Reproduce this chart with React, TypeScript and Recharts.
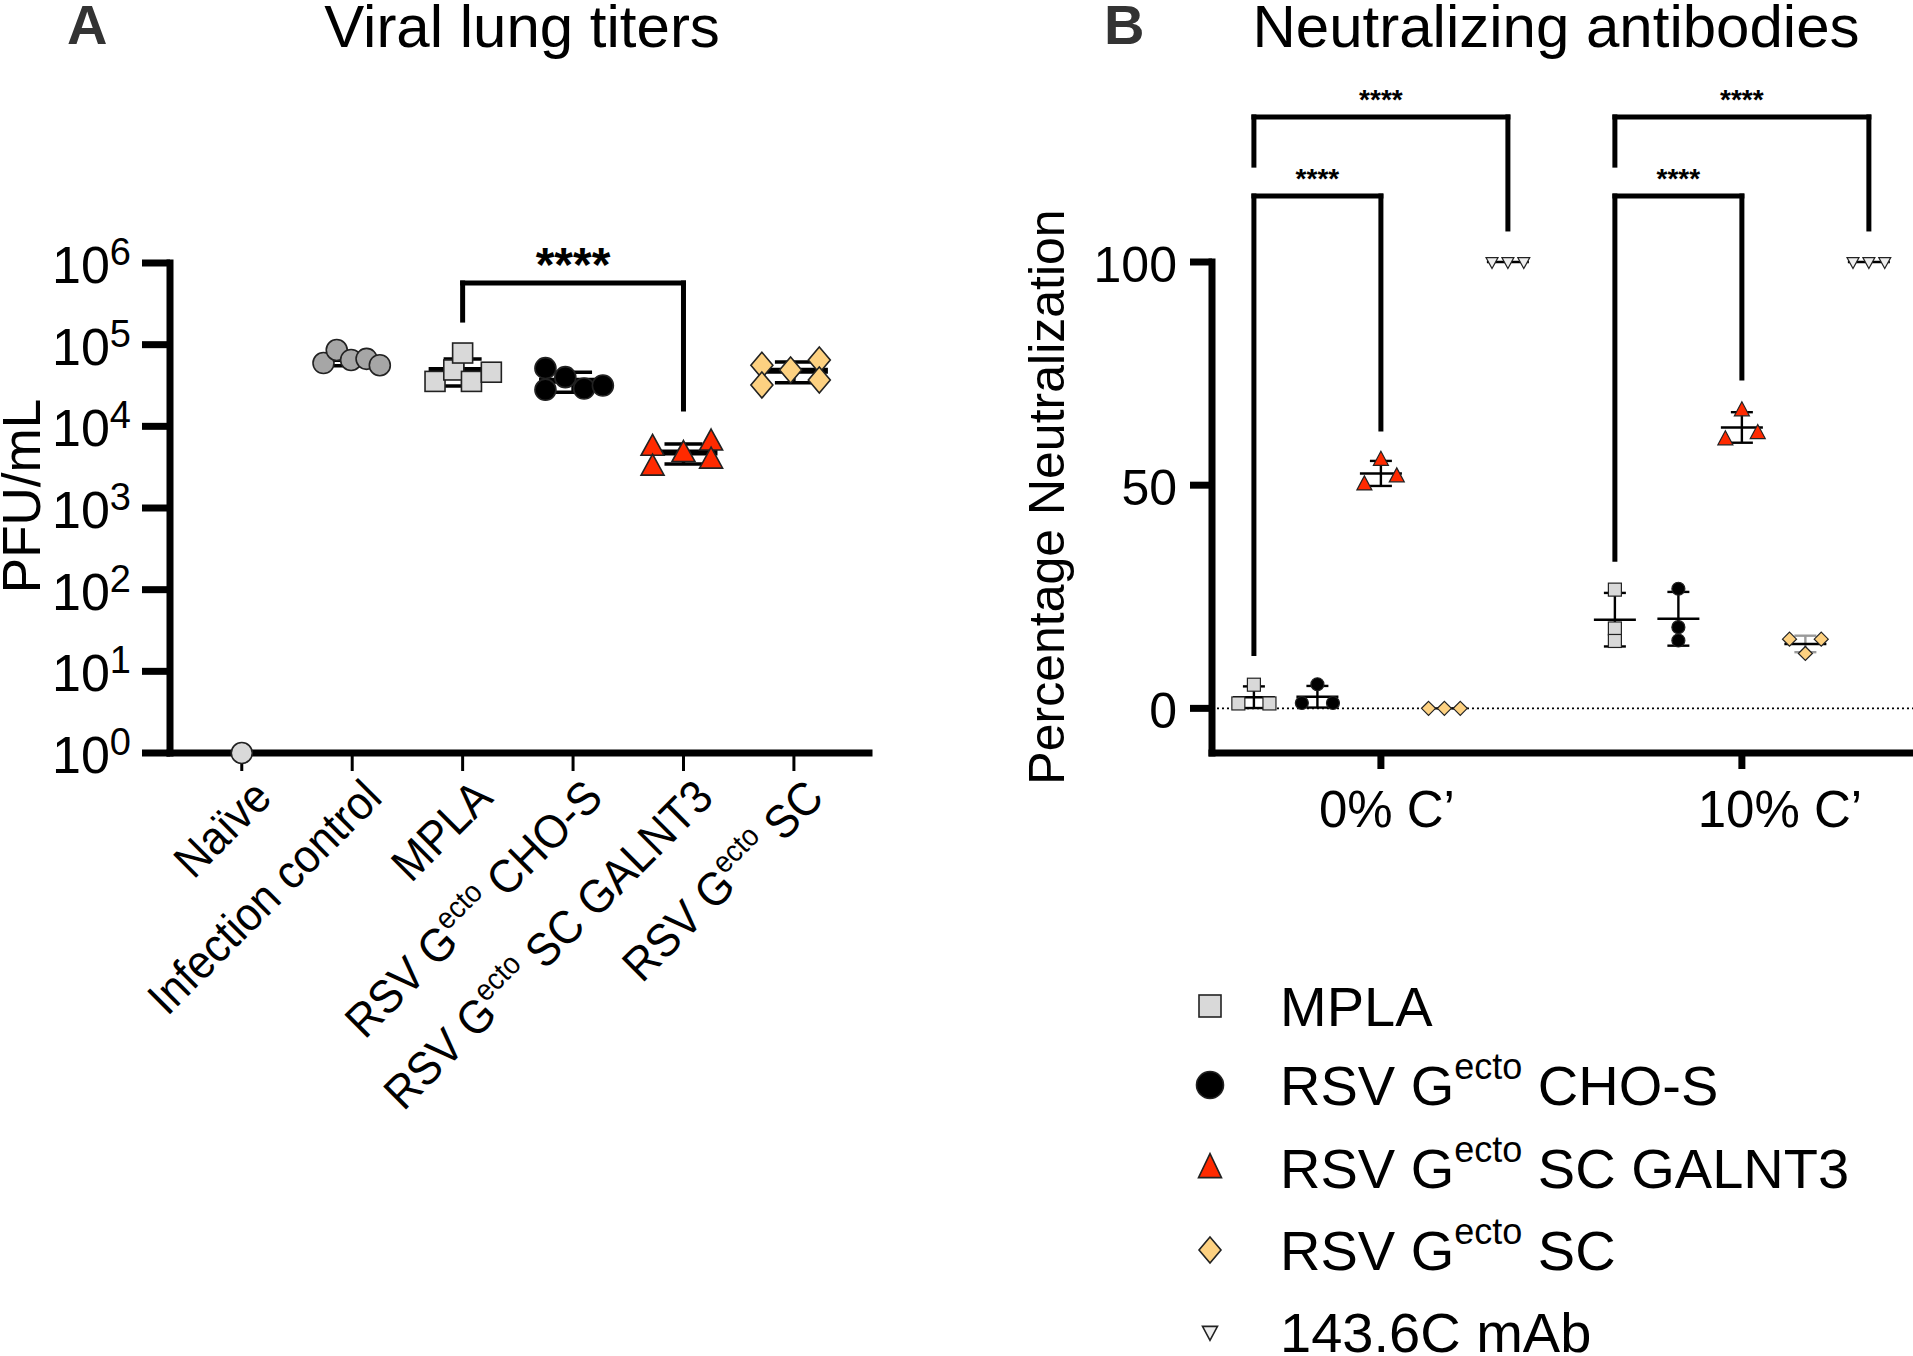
import React from 'react'
import { ScatterChart, Scatter, XAxis, YAxis, ErrorBar, ReferenceLine, ReferenceDot } from 'recharts'

const FONT = "'Liberation Sans', Arial, Helvetica, sans-serif"

// ---------- Panel A: viral lung titers (PFU/mL, log axis) ----------
const categoriesA = ['Naïve', 'Infection control', 'MPLA', 'RSV G^ecto^ CHO-S', 'RSV G^ecto^ SC GALNT3', 'RSV G^ecto^ SC']
const naiveA = [1]
const infectionControlA = [59600, 86000, 65000, 67000, 56000]
const mplaA = [35500, 49000, 79000, 35500, 46000]
const choA = [51600, 28000, 40000, 29000, 31600]
const galnt3A = [5600, 3200, 4700, 6500, 3900]
const scA = [56000, 32000, 49000, 65000, 37000]
// horizontal scatter of the dots inside each column (in column units)
const spreadNaive = [0]
const spreadIC = [-0.26, -0.14, -0.01, 0.13, 0.25]
const spreadMPLA = [-0.25, -0.08, 0, 0.08, 0.26]
const spreadCHO = [-0.25, -0.25, -0.07, 0.1, 0.27]
const spreadGAL = [-0.28, -0.28, 0, 0.25, 0.25]
const spreadSC = [-0.29, -0.29, -0.03, 0.23, 0.23]
const logTicksA = [1, 10, 100, 1000, 10000, 100000, 1000000]
// significance bracket MPLA vs GALNT3
const bracketA = { from: 2, to: 4, top: 569000, leftEnd: 200000, rightEnd: 16300, label: '****' }

// ---------- Panel B: neutralizing antibodies (% neutralization) ----------
const groupsB = ['0% C’', '10% C’']
const seriesB = ['MPLA', 'RSV G^ecto^ CHO-S', 'RSV G^ecto^ SC GALNT3', 'RSV G^ecto^ SC', '143.6C mAb']
const mplaB = [[1.1, 5.3, 1.1], [26.6, 17.9, 15.1]]
const choB = [[1.2, 5.4, 1.2], [26.8, 18.2, 15.2]]
const galnt3B = [[50.2, 55.7, 52.0], [60.3, 66.8, 61.7]]
const scB = [[0, 0, 0], [15.5, 12.3, 15.5]]
const mabB = [[100, 100, 100], [100, 100, 100]]
const spreadB = [
  [[-0.245, 0, 0.245], [0, 0, 0]],
  [[-0.245, 0, 0.245], [0, 0, 0]],
  [[-0.26, 0, 0.25], [-0.26, 0, 0.25]],
  [[-0.25, 0, 0.25], [-0.25, 0, 0.25]],
  [[-0.25, 0, 0.25], [-0.25, 0, 0.25]],
]
const yTicksB = [0, 50, 100]
// brackets: MPLA vs mAb (outer) and MPLA vs GALNT3 (inner), per group
const outerBracketB = { top: 132.5, leftEnd: 121.7, rightEnd: [107.4, 107.4], label: '****' }
const innerBracketB = { top: 114.8, leftEnd: [12.3, 33.4], rightEnd: [62.6, 74.0], label: '****' }

const GROUP_STEP_B = 5.685
const SERIES_OFFSET_B = [-2, -1, 0, 1, 2]

type Kind = 'circle' | 'square' | 'triangle' | 'diamond' | 'triangleDown'

const mean = (v: number[]) => v.reduce((a, b) => a + b, 0) / v.length
const sdev = (v: number[]) => {
  if (v.length < 2) return 0
  const m = mean(v)
  return Math.sqrt(v.reduce((a, b) => a + (b - m) * (b - m), 0) / (v.length - 1))
}

function Marker({ kind, cx, cy, w, h, fill, stroke = '#111', sw = 1.5 }: any) {
  if (cx == null || cy == null) return null
  switch (kind as Kind) {
    case 'circle':
      return <circle cx={cx} cy={cy} r={w / 2} fill={fill} stroke={stroke} strokeWidth={sw} />
    case 'square':
      return <rect x={cx - w / 2} y={cy - h / 2} width={w} height={h} fill={fill} stroke={stroke} strokeWidth={sw} />
    case 'triangle':
      return (
        <polygon
          points={`${cx},${cy - h * 0.6} ${cx + w / 2},${cy + h * 0.4} ${cx - w / 2},${cy + h * 0.4}`}
          fill={fill}
          stroke={stroke}
          strokeWidth={sw}
        />
      )
    case 'triangleDown':
      return (
        <polygon
          points={`${cx - w / 2},${cy - h * 0.4} ${cx + w / 2},${cy - h * 0.4} ${cx},${cy + h * 0.6}`}
          fill={fill}
          stroke={stroke}
          strokeWidth={sw}
        />
      )
    case 'diamond':
      return (
        <polygon
          points={`${cx},${cy - h / 2} ${cx + w / 2},${cy} ${cx},${cy + h / 2} ${cx - w / 2},${cy}`}
          fill={fill}
          stroke={stroke}
          strokeWidth={sw}
        />
      )
  }
  return null
}

// label text with a "^sup^" part rendered as superscript
const withSup = (label: string, size: number, supSize: number, raise: number) =>
  label.split('^').map((p, i) =>
    i % 2 === 1 ? (
      <tspan key={i} fontSize={supSize} dy={-raise}>{p}</tspan>
    ) : (
      <tspan key={i} fontSize={size} dy={i > 0 ? raise : 0}>{p}</tspan>
    )
  )

const LogTickA = (props: any) => {
  const { x, y, payload } = props
  const exp = Math.round(Math.log10(payload.value))
  return (
    <text x={x - 9} y={y} textAnchor="end" fontFamily={FONT} fill="#000">
      <tspan fontSize={52} dy={20}>10</tspan>
      <tspan fontSize={38} dy={-18}>{exp}</tspan>
    </text>
  )
}

const CatTickA = (props: any) => {
  const { x, y, payload } = props
  const label = categoriesA[Math.round(payload.value)] ?? ''
  return (
    <g transform={`translate(${x + 32},${y + 27}) rotate(-45) scale(0.925,1)`}>
      <text textAnchor="end" fontFamily={FONT} fontSize={47} fill="#000" style={{ whiteSpace: 'pre' }}>
        {withSup(label, 47, 30, 19)}
      </text>
    </g>
  )
}

const TickB = (props: any) => {
  const { x, y, payload } = props
  return (
    <text x={x - 11} y={y + 20} textAnchor="end" fontFamily={FONT} fontSize={50} fill="#000">
      {payload.value}
    </text>
  )
}

const labelShiftB = [6, 38]
const GroupTickB = (props: any) => {
  const { x, y, index } = props
  return (
    <text x={x + labelShiftB[index]} y={y + 56} textAnchor="middle" fontFamily={FONT} fontSize={51} fill="#000">
      {groupsB[index]}
    </text>
  )
}

const styleA: { kind: Kind; fill: string }[] = [
  { kind: 'circle', fill: '#d9d9d9' },
  { kind: 'circle', fill: '#a6a6a6' },
  { kind: 'square', fill: '#d9d9d9' },
  { kind: 'circle', fill: '#000000' },
  { kind: 'triangle', fill: '#ff2a00' },
  { kind: 'diamond', fill: '#fdd181' },
]
const sizeA: Record<Kind, [number, number]> = {
  circle: [21, 21],
  square: [20, 20],
  triangle: [23, 21],
  diamond: [22, 26],
  triangleDown: [14, 12],
}

const styleB: { kind: Kind; fill: string; err: string }[] = [
  { kind: 'square', fill: '#d9d9d9', err: '#000' },
  { kind: 'circle', fill: '#000000', err: '#000' },
  { kind: 'triangle', fill: '#ff2a00', err: '#000' },
  { kind: 'diamond', fill: '#fdd181', err: '#9a9a9a' },
  { kind: 'triangleDown', fill: '#eeeeee', err: '#000' },
]
const sizeB: Record<Kind, [number, number]> = {
  circle: [13, 13],
  square: [13, 13],
  triangle: [15, 14],
  diamond: [14, 14],
  triangleDown: [12, 11],
}

function PanelA() {
  const valuesA = [naiveA, infectionControlA, mplaA, choA, galnt3A, scA]
  const spreadsA = [spreadNaive, spreadIC, spreadMPLA, spreadCHO, spreadGAL, spreadSC]
  const axisLine = { stroke: '#000', strokeWidth: 7, strokeLinecap: 'square' as const }
  const seg = (a: [number, number], b: [number, number], k: string) => (
    <ReferenceLine
      key={k}
      segment={[{ x: a[0], y: a[1] }, { x: b[0], y: b[1] }]}
      stroke="#000"
      strokeWidth={5}
      strokeLinecap="square"
      ifOverflow="visible"
    />
  )
  return (
    <ScatterChart width={900} height={1200} margin={{ top: 263, right: 31, bottom: 0, left: 0 }}>
      <XAxis
        type="number"
        dataKey="x"
        domain={[-0.65, 5.68]}
        ticks={[0, 1, 2, 3, 4, 5]}
        interval={0}
        height={447}
        tickSize={18}
        axisLine={axisLine}
        tickLine={{ stroke: '#000', strokeWidth: 3 }}
        tick={<CatTickA />}
      />
      <YAxis
        type="number"
        dataKey="y"
        scale="log"
        domain={[1, 1000000]}
        ticks={logTicksA}
        interval={0}
        width={170}
        tickSize={28}
        axisLine={axisLine}
        tickLine={{ stroke: '#000', strokeWidth: 7 }}
        tick={<LogTickA />}
      />
      {valuesA.map((v, i) =>
        v.length > 1 ? (
          <Scatter
            key={'m' + i}
            data={[{ x: i, y: mean(v), sd: sdev(v) }]}
            isAnimationActive={false}
            shape={(p: any) => (
              <line x1={p.cx - 34} x2={p.cx + 34} y1={p.cy} y2={p.cy} stroke="#000" strokeWidth={6} />
            )}
          >
            <ErrorBar dataKey="sd" direction="y" width={19} stroke="#000" strokeWidth={3.5} isAnimationActive={false} />
          </Scatter>
        ) : null
      )}
      {valuesA.map((v, i) => {
        const st = styleA[i]
        const [w, h] = sizeA[st.kind]
        return (
          <Scatter
            key={'p' + i}
            data={v.map((y, j) => ({ x: i + spreadsA[i][j], y }))}
            isAnimationActive={false}
            shape={(p: any) => <Marker kind={st.kind} cx={p.cx} cy={p.cy} w={w} h={h} fill={st.fill} stroke="#222" sw={1.6} />}
          />
        )
      })}
      {seg([bracketA.from, bracketA.leftEnd], [bracketA.from, bracketA.top], 'a1')}
      {seg([bracketA.from, bracketA.top], [bracketA.to, bracketA.top], 'a2')}
      {seg([bracketA.to, bracketA.top], [bracketA.to, bracketA.rightEnd], 'a3')}
      <ReferenceDot
        x={(bracketA.from + bracketA.to) / 2}
        y={bracketA.top}
        r={0}
        ifOverflow="visible"
        shape={(p: any) => (
          <text x={p.cx} y={p.cy - 2} textAnchor="middle" fontFamily={FONT} fontWeight="bold" fontSize={48} fill="#000">
            {bracketA.label}
          </text>
        )}
      />
    </ScatterChart>
  )
}

function PanelB() {
  const valuesB = [mplaB, choB, galnt3B, scB, mabB]
  const axisLine = { stroke: '#000', strokeWidth: 7, strokeLinecap: 'square' as const }
  const posB = (g: number, s: number) => g * GROUP_STEP_B + SERIES_OFFSET_B[s]
  const seg = (a: [number, number], b: [number, number], k: string) => (
    <ReferenceLine
      key={k}
      segment={[{ x: a[0], y: a[1] }, { x: b[0], y: b[1] }]}
      stroke="#000"
      strokeWidth={5}
      strokeLinecap="square"
      ifOverflow="visible"
    />
  )
  const stars = (x: number, y: number, k: string) => (
    <ReferenceDot
      key={k}
      x={x}
      y={y}
      r={0}
      ifOverflow="visible"
      shape={(p: any) => (
        <text x={p.cx} y={p.cy - 8} textAnchor="middle" fontFamily={FONT} fontWeight="bold" fontSize={28} fill="#000">
          ****
        </text>
      )}
    />
  )
  return (
    <ScatterChart width={1013} height={1000} margin={{ top: 262, right: 0, bottom: 0, left: 0 }}>
      <XAxis
        type="number"
        dataKey="x"
        domain={[-2.66, 8.38]}
        ticks={[0, GROUP_STEP_B]}
        interval={0}
        height={247}
        tickSize={16}
        axisLine={axisLine}
        tickLine={{ stroke: '#000', strokeWidth: 7 }}
        tick={<GroupTickB />}
      />
      <YAxis
        type="number"
        dataKey="y"
        domain={[-10, 100]}
        ticks={yTicksB}
        interval={0}
        width={312}
        tickSize={22}
        axisLine={axisLine}
        tickLine={{ stroke: '#000', strokeWidth: 7 }}
        tick={<TickB />}
      />
      <ReferenceLine y={0} stroke="#000" strokeWidth={1.8} strokeDasharray="2 3" />
      {valuesB.map((byGroup, s) =>
        byGroup.map((v, g) => (
          <Scatter
            key={`m${s}-${g}`}
            data={[{ x: posB(g, s), y: mean(v), sd: sdev(v) }]}
            isAnimationActive={false}
            shape={(p: any) => (
              <line x1={p.cx - 21} x2={p.cx + 21} y1={p.cy} y2={p.cy} stroke="#000" strokeWidth={2.4} />
            )}
          >
            <ErrorBar dataKey="sd" direction="y" width={11} stroke={styleB[s].err} strokeWidth={2.4} isAnimationActive={false} />
          </Scatter>
        ))
      )}
      {valuesB.map((byGroup, s) =>
        byGroup.map((v, g) => {
          const st = styleB[s]
          const [w, h] = sizeB[st.kind]
          return (
            <Scatter
              key={`p${s}-${g}`}
              data={v.map((y, j) => ({ x: posB(g, s) + spreadB[s][g][j], y }))}
              isAnimationActive={false}
              shape={(p: any) => <Marker kind={st.kind} cx={p.cx} cy={p.cy} w={w} h={h} fill={st.fill} stroke="#222" sw={1.2} />}
            />
          )
        })
      )}
      {groupsB.map((_, g) => {
        const xl = posB(g, 0)
        const xm = posB(g, 4)
        const xg = posB(g, 2)
        return [
          seg([xl, outerBracketB.leftEnd], [xl, outerBracketB.top], `o1${g}`),
          seg([xl, outerBracketB.top], [xm, outerBracketB.top], `o2${g}`),
          seg([xm, outerBracketB.top], [xm, outerBracketB.rightEnd[g]], `o3${g}`),
          stars((xl + xm) / 2, outerBracketB.top, `os${g}`),
          seg([xl, innerBracketB.leftEnd[g]], [xl, innerBracketB.top], `i1${g}`),
          seg([xl, innerBracketB.top], [xg, innerBracketB.top], `i2${g}`),
          seg([xg, innerBracketB.top], [xg, innerBracketB.rightEnd[g]], `i3${g}`),
          stars((xl + xg) / 2, innerBracketB.top, `is${g}`),
        ]
      })}
    </ScatterChart>
  )
}

function LegendB() {
  const rows = [1006, 1085, 1168, 1250, 1332]
  const legendSize: Record<Kind, [number, number]> = {
    square: [22, 22],
    circle: [27, 27],
    triangle: [23, 24],
    diamond: [22, 26],
    triangleDown: [15, 14],
  }
  return (
    <g>
      {seriesB.map((name, i) => {
        const st = styleB[i]
        const [w, h] = legendSize[st.kind]
        return (
          <g key={name}>
            <Marker kind={st.kind} cx={1210} cy={rows[i]} w={w} h={h} fill={st.fill} stroke="#222" sw={1.6} />
            <text x={1280} y={rows[i] + 20} fontFamily={FONT} fontSize={56} fill="#000" style={{ whiteSpace: 'pre' }}>
              {withSup(name, 56, 36, 26)}
            </text>
          </g>
        )
      })}
    </g>
  )
}

export default function App() {
  return (
    <div style={{ position: 'absolute', left: 0, top: 0, width: 1913, height: 1356, background: '#fff', overflow: 'hidden' }}>
      <div style={{ position: 'absolute', left: 0, top: 0 }}>
        <PanelA />
      </div>
      <div style={{ position: 'absolute', left: 900, top: 0 }}>
        <PanelB />
      </div>
      <svg width={1913} height={1356} style={{ position: 'absolute', left: 0, top: 0, pointerEvents: 'none' }}>
        <text x={67} y={44} fontFamily={FONT} fontWeight="bold" fontSize={56} fill="#333">A</text>
        <text x={1104} y={44} fontFamily={FONT} fontWeight="bold" fontSize={56} fill="#333">B</text>
        <text x={522} y={47} textAnchor="middle" fontFamily={FONT} fontSize={60} fill="#000">Viral lung titers</text>
        <text x={1556} y={47} textAnchor="middle" fontFamily={FONT} fontSize={60} fill="#000">Neutralizing antibodies</text>
        <text transform="translate(40,496) rotate(-90)" textAnchor="middle" fontFamily={FONT} fontSize={53} fill="#000">PFU/mL</text>
        <text transform="translate(1064,497) rotate(-90)" textAnchor="middle" fontFamily={FONT} fontSize={50} fill="#000">
          Percentage Neutralization
        </text>
        <LegendB />
      </svg>
    </div>
  )
}
